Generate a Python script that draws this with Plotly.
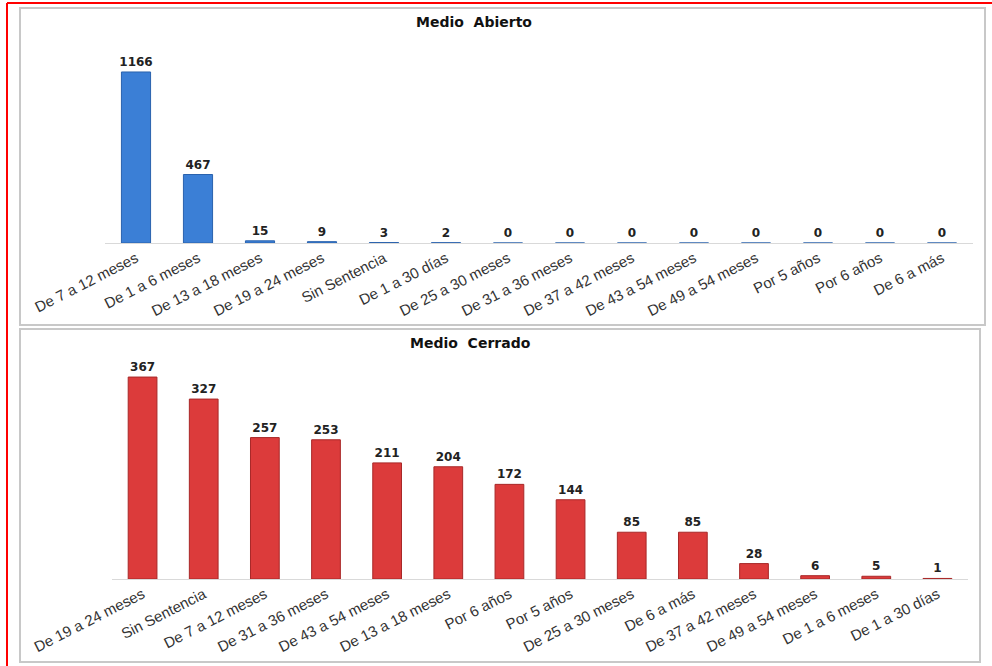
import plotly.graph_objects as go

W, H = 992, 666

abierto_cats = ["De 7 a 12 meses", "De 1 a 6 meses", "De 13 a 18 meses", "De 19 a 24 meses",
                "Sin Sentencia", "De 1 a 30 días", "De 25 a 30 meses", "De 31 a 36 meses",
                "De 37 a 42 meses", "De 43 a 54 meses", "De 49 a 54 meses", "Por 5 años",
                "Por 6 años", "De 6 a más"]
abierto_vals = [1166, 467, 15, 9, 3, 2, 0, 0, 0, 0, 0, 0, 0, 0]

cerrado_cats = ["De 19 a 24 meses", "Sin Sentencia", "De 7 a 12 meses", "De 31 a 36 meses",
                "De 43 a 54 meses", "De 13 a 18 meses", "Por 6 años", "Por 5 años",
                "De 25 a 30 meses", "De 6 a más", "De 37 a 42 meses", "De 49 a 54 meses",
                "De 1 a 6 meses", "De 1 a 30 días"]
cerrado_vals = [367, 327, 257, 253, 211, 204, 172, 144, 85, 85, 28, 6, 5, 1]

def px_x(p):
    return p / W

def px_y(p):
    return 1 - p / H

valfont = dict(family="DejaVu Sans, Verdana, sans-serif", size=12, color="#222222")

fig = go.Figure()

fig.add_trace(go.Bar(
    x=abierto_cats, y=abierto_vals, xaxis="x", yaxis="y",
    marker=dict(color="#3b7fd6", line=dict(color="#2a62ad", width=1)),
    width=0.47,
    text=[f"<b>{v}</b>" for v in abierto_vals], textposition="outside",
    constraintext="none",
    textfont=valfont, cliponaxis=False, showlegend=False,
))

fig.add_trace(go.Bar(
    x=cerrado_cats, y=cerrado_vals, xaxis="x2", yaxis="y2",
    marker=dict(color="#dc3b3b", line=dict(color="#a82828", width=1)),
    width=0.47,
    text=[f"<b>{v}</b>" for v in cerrado_vals], textposition="outside",
    constraintext="none",
    textfont=valfont, cliponaxis=False, showlegend=False,
))

tickfont = dict(family="Liberation Sans, Arial, sans-serif", size=15, color="#333333")

fig.update_layout(
    width=W, height=H,
    margin=dict(l=0, r=0, t=0, b=0),
    paper_bgcolor="white", plot_bgcolor="white",
    xaxis=dict(domain=[px_x(105), px_x(973)], anchor="y", tickangle=-27, automargin=False,
               tickfont=tickfont, showgrid=False, showline=True, linecolor="#d9d9d9",
               linewidth=1, ticks="", fixedrange=True),
    yaxis=dict(domain=[px_y(243), px_y(40)], range=[0, 1384], visible=False,
               automargin=False, showgrid=False, fixedrange=True),
    xaxis2=dict(domain=[px_x(112), px_x(968)], anchor="y2", tickangle=-27, automargin=False,
                tickfont=tickfont, showgrid=False, showline=True, linecolor="#d9d9d9",
                linewidth=1, ticks="", fixedrange=True),
    yaxis2=dict(domain=[px_y(579), px_y(360)], range=[0, 398], visible=False,
                automargin=False, showgrid=False, fixedrange=True),
    font=dict(family="Liberation Sans, Arial, sans-serif"),
)

shapes = [
    dict(type="rect", xref="paper", yref="paper", x0=px_x(20), x1=px_x(985),
         y0=px_y(325), y1=px_y(8), line=dict(color="#c8c8c8", width=2), layer="below"),
    dict(type="rect", xref="paper", yref="paper", x0=px_x(20), x1=px_x(980),
         y0=px_y(662), y1=px_y(329), line=dict(color="#c8c8c8", width=2), layer="below"),
    dict(type="line", xref="paper", yref="paper", x0=px_x(7), x1=px_x(992),
         y0=px_y(3), y1=px_y(3), line=dict(color="#ff0000", width=2)),
    dict(type="line", xref="paper", yref="paper", x0=px_x(7), x1=px_x(7),
         y0=px_y(3), y1=px_y(666), line=dict(color="#ff0000", width=2)),
]
fig.update_layout(shapes=shapes)

titlefont = dict(family="DejaVu Sans, Verdana, sans-serif", size=14, color="#111111")
fig.add_annotation(text="<b>Medio  Abierto</b>", xref="paper", yref="paper",
                   x=px_x(474), y=px_y(22), yanchor="middle", showarrow=False, font=titlefont)
fig.add_annotation(text="<b>Medio  Cerrado</b>", xref="paper", yref="paper",
                   x=px_x(470), y=px_y(343), yanchor="middle", showarrow=False, font=titlefont)

fig.write_html("out.html")
